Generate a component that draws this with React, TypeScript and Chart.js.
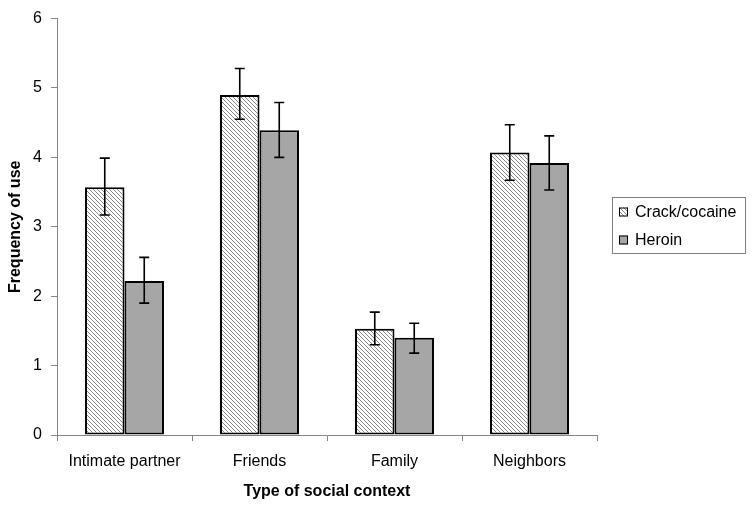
import React, { useEffect, useRef } from "react";
import { Chart, registerables } from "chart.js";

Chart.register(...registerables);

const categories = ["Intimate partner", "Friends", "Family", "Neighbors"];
const seriesNames = ["Crack/cocaine", "Heroin"];
const crackValues = [3.57, 4.9, 1.53, 4.07];
const crackHigh = [3.99, 5.28, 1.77, 4.47];
const crackLow = [3.17, 4.55, 1.3, 3.67];
const heroinValues = [2.22, 4.39, 1.4, 3.92];
const heroinHigh = [2.56, 4.79, 1.61, 4.31];
const heroinLow = [1.9, 4.0, 1.18, 3.53];
const yTicks = [0, 1, 2, 3, 4, 5, 6];

const FONT = "'Liberation Sans', Arial, sans-serif";

function makeHatch(): CanvasPattern | string {
  const s = 4;
  const c = document.createElement("canvas");
  c.width = s;
  c.height = s;
  const ctx = c.getContext("2d");
  if (!ctx) return "#ddd";
  ctx.fillStyle = "#ffffff";
  ctx.fillRect(0, 0, s, s);
  ctx.strokeStyle = "#8a8a8a";
  ctx.lineWidth = 1;
  for (let k = -1; k <= 1; k++) {
    ctx.beginPath();
    ctx.moveTo(k * s, 0);
    ctx.lineTo(k * s + s, s);
    ctx.stroke();
  }
  const p = ctx.createPattern(c, "repeat");
  return p || "#ddd";
}

const errorBarsPlugin = {
  id: "errorBars",
  afterDatasetsDraw(chart: any) {
    const ctx = chart.ctx;
    const yScale = chart.scales.y;
    const highs = [crackHigh, heroinHigh];
    const lows = [crackLow, heroinLow];
    ctx.save();
    ctx.strokeStyle = "#000";
    ctx.lineWidth = 1.6;
    chart.data.datasets.forEach((_: any, di: number) => {
      const meta = chart.getDatasetMeta(di);
      meta.data.forEach((el: any, i: number) => {
        const x = el.x;
        const yt = yScale.getPixelForValue(highs[di][i]);
        const yb = yScale.getPixelForValue(lows[di][i]);
        const hw = 5;
        ctx.beginPath();
        ctx.moveTo(x, yt);
        ctx.lineTo(x, yb);
        ctx.moveTo(x - hw, yt);
        ctx.lineTo(x + hw, yt);
        ctx.moveTo(x - hw, yb);
        ctx.lineTo(x + hw, yb);
        ctx.stroke();
      });
    });
    ctx.restore();
  },
};

const legendBoxPlugin = {
  id: "legendBox",
  afterDraw(chart: any) {
    const ctx = chart.ctx;
    const left = 612;
    const top = 197;
    const w = 133;
    const h = 56;
    ctx.save();
    ctx.strokeStyle = "#808080";
    ctx.lineWidth = 1;
    ctx.strokeRect(left + 0.5, top + 0.5, w, h);
    ctx.font = `16px ${FONT}`;
    ctx.textBaseline = "middle";
    ctx.fillStyle = "#000";
    const rows = [212, 240];
    chart.data.datasets.forEach((ds: any, i: number) => {
      const y = rows[i];
      ctx.fillStyle = ds.backgroundColor;
      ctx.fillRect(619, y - 4.5, 9, 9);
      ctx.strokeStyle = "#000";
      ctx.lineWidth = 1;
      ctx.strokeRect(619.5, y - 4, 8, 8);
      ctx.fillStyle = "#000";
      ctx.fillText(ds.label, 635, y + 1);
    });
    ctx.restore();
  },
};

export default function App() {
  const ref = useRef<HTMLCanvasElement>(null);
  useEffect(() => {
    if (!ref.current) return;
    const hatch = makeHatch();
    const chart = new Chart(ref.current, {
      type: "bar",
      data: {
        labels: categories,
        datasets: [
          {
            label: seriesNames[0],
            data: crackValues,
            backgroundColor: hatch as any,
            borderColor: "#000",
            borderWidth: 2,
            borderSkipped: false,
          },
          {
            label: seriesNames[1],
            data: heroinValues,
            backgroundColor: "#a6a6a6",
            borderColor: "#000",
            borderWidth: 2,
            borderSkipped: false,
          },
        ],
      },
      options: {
        animation: false,
        responsive: false,
        maintainAspectRatio: false,
        devicePixelRatio: 1,
        layout: { padding: { left: 0, top: 14, right: 156, bottom: 0 } },
        plugins: {
          legend: { display: false },
          tooltip: { enabled: false },
        },
        datasets: {
          bar: { categoryPercentage: 0.585, barPercentage: 1 },
        },
        scales: {
          x: {
            grid: {
              display: true,
              drawOnChartArea: false,
              drawTicks: true,
              tickLength: 6,
              color: "#868686",
              offset: true,
            },
            border: { color: "#868686", width: 1 },
            ticks: {
              color: "#000",
              font: { family: FONT, size: 16 },
              padding: 11,
              maxRotation: 0,
            },
            title: {
              display: true,
              text: "Type of social context",
              color: "#000",
              font: { family: FONT, size: 16, weight: "bold" },
              padding: { top: 0, bottom: 7 },
            },
            afterFit(scale: any) {
              scale.height = 73;
            },
          },
          y: {
            min: 0,
            max: 6,
            afterBuildTicks(scale: any) {
              scale.ticks = yTicks.map((v) => ({ value: v }));
            },
            grid: {
              display: true,
              drawOnChartArea: false,
              drawTicks: true,
              tickLength: 6,
              color: "#868686",
            },
            border: { color: "#868686", width: 1 },
            ticks: {
              color: "#000",
              font: { family: FONT, size: 16 },
              padding: 9,
            },
            title: {
              display: true,
              text: "Frequency of use",
              color: "#000",
              font: { family: FONT, size: 16, weight: "bold" },
              padding: { top: 6, bottom: 0 },
            },
            afterFit(scale: any) {
              scale.width = 57;
            },
          },
        },
      },
      plugins: [errorBarsPlugin, legendBoxPlugin],
    });
    return () => chart.destroy();
  }, []);
  return (
    <div style={{ position: "fixed", left: 0, top: 0, width: 753, height: 508, background: "#fff" }}>
      <canvas ref={ref} width={753} height={508} style={{ width: 753, height: 508, display: "block" }} />
    </div>
  );
}
